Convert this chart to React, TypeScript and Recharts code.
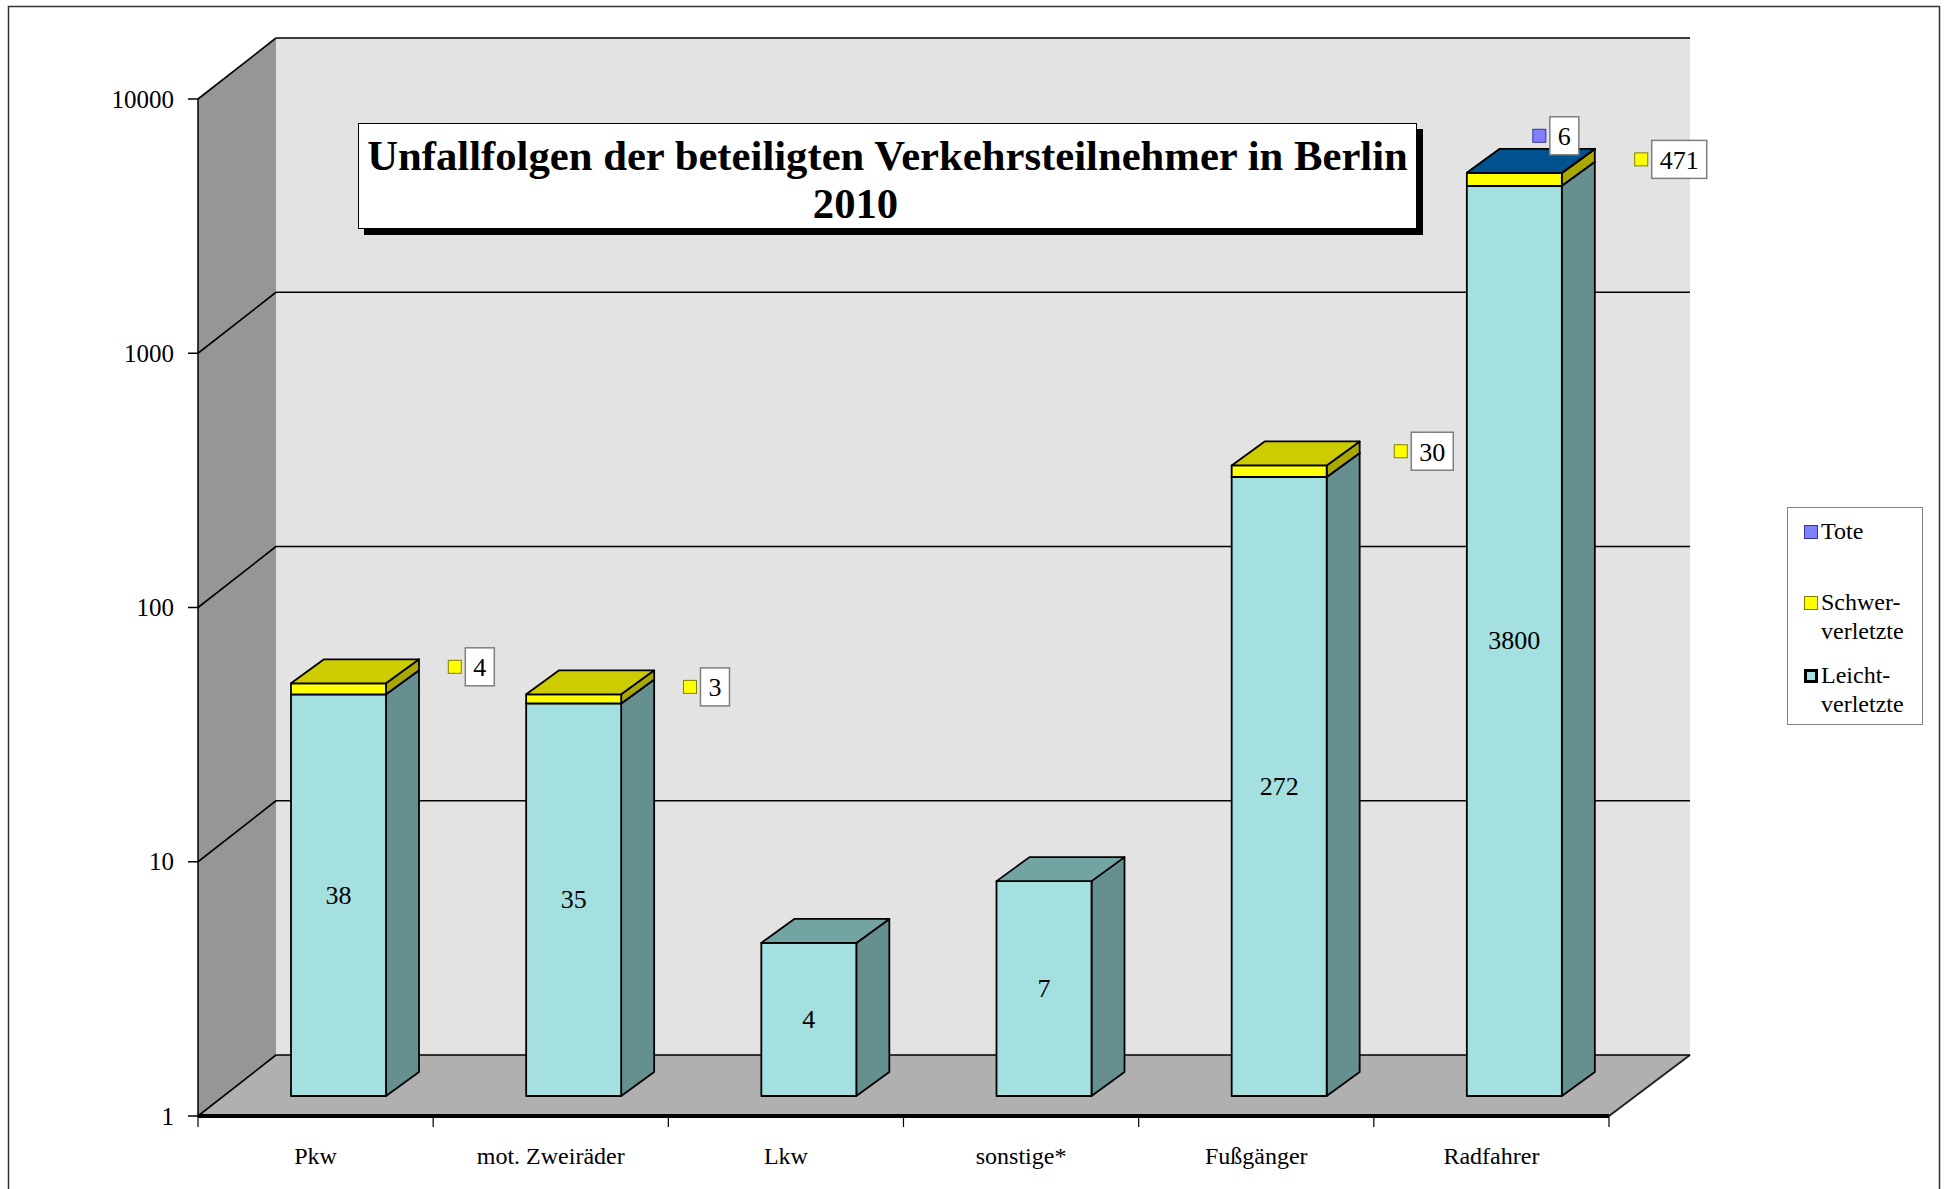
import React from "react";
import { Bar, BarChart, CartesianGrid, LabelList, XAxis, YAxis } from "recharts";

const categories = ["Pkw", "mot. Zweiräder", "Lkw", "sonstige*", "Fußgänger", "Radfahrer"];
const leichtverletzte = [38, 35, 4, 7, 272, 3800];
const schwerverletzte = [4, 3, 0, 0, 30, 471];
const tote = [0, 0, 0, 0, 0, 6];
const yTicks = [1, 10, 100, 1000, 10000];

const titleLines = ["Unfallfolgen der beteiligten Verkehrsteilnehmer in Berlin", "2010"];

// legend order is top-down, the reverse of the stacking
const legendItems = [
  { lines: ["Tote"], fill: "#8080FF", border: "1px solid #333399" },
  { lines: ["Schwer-", "verletzte"], fill: "#FFFF00", border: "1px solid #808000" },
  { lines: ["Leicht-", "verletzte"], fill: "#A4E0E0", border: "3px solid #000" },
];

// each segment is a [from, to] range so the log axis never sees a zero base
const data = categories.map((cat, i) => {
  const l = leichtverletzte[i];
  const s = schwerverletzte[i];
  const t = tote[i];
  return {
    cat,
    leicht: l,
    schwer: s,
    tote: t,
    leichtRange: [1, l],
    schwerRange: [l, l + s],
    toteRange: [l + s, l + s + t],
  };
});

const SERIF = "'Liberation Serif', 'Times New Roman', serif";
const W = 1944;
const H = 1189;
const PLOT = { left: 198, right: 1609, top: 99, bottom: 1116 };
// oblique depth of the walls, of the bars' front plane and of a bar itself
const WALL_DX = 78;
const WALL_DX_RIGHT = 81;
const WALL_DY = -61;
const BAR_DX = 23;
const BAR_DY = -20;
const DEPTH_DX = 33;
const DEPTH_DY = -24;
const BAR_SIZE = 95;
// the boxed Schwerverletzte labels sit a little above their segment, not all by the same amount
const SCHWER_LABEL_DY = [-22, -12, -20, -20, -20, -20];

const FACES = {
  leicht: { front: "#A4E0E0", side: "#669090", top: "#72A4A4" },
  schwer: { front: "#FFFF00", side: "#A8A800", top: "#CCCC00" },
  tote: { front: "#8080FF", side: "#5050B0", top: "#00538F" },
};

function boxShape(faces: { front: string; side: string; top: string }, valueKey: string) {
  return (props: any) => {
    const { x, y, width, height, payload } = props;
    if (!payload || !payload[valueKey] || y == null || isNaN(y)) return <g />;
    const fx = x + BAR_DX;
    const fy = y + BAR_DY;
    const h = Math.max(height, 0);
    const front = `M${fx},${fy}h${width}v${h}h${-width}Z`;
    const side = `M${fx + width},${fy}l${DEPTH_DX},${DEPTH_DY}v${h}l${-DEPTH_DX},${-DEPTH_DY}Z`;
    const top = `M${fx},${fy}l${DEPTH_DX},${DEPTH_DY}h${width}l${-DEPTH_DX},${-DEPTH_DY}Z`;
    return (
      <g stroke="#000" strokeWidth={1.8} strokeLinejoin="round">
        <path d={side} fill={faces.side} />
        <path d={front} fill={faces.front} />
        <path d={top} fill={faces.top} />
      </g>
    );
  };
}

function labelBox(p: any) {
  return p.viewBox && p.viewBox.width != null ? p.viewBox : p;
}

function BoxedLabel({ mx, cy, text, fill, stroke }: any) {
  const w = text.length * 13 + 16;
  const bx = mx + 17;
  return (
    <g>
      <rect x={mx} y={cy - 6.5} width={13} height={13} fill={fill} stroke={stroke} strokeWidth={1} />
      <rect x={bx} y={cy - 19} width={w} height={38} fill="#fff" stroke="#7F7F7F" strokeWidth={1.5} />
      <text x={bx + w / 2} y={cy + 1} textAnchor="middle" dominantBaseline="central" fontFamily={SERIF} fontSize={26} fill="#000">
        {text}
      </text>
    </g>
  );
}

const leichtLabel = (p: any) => {
  if (!p.value) return null;
  const b = labelBox(p);
  return (
    <text
      x={b.x + BAR_DX + b.width / 2}
      y={b.y + BAR_DY + b.height / 2}
      textAnchor="middle"
      dominantBaseline="central"
      fontFamily={SERIF}
      fontSize={26}
      fill="#000"
    >
      {p.value}
    </text>
  );
};

const schwerLabel = (p: any) => {
  if (!p.value) return null;
  const b = labelBox(p);
  const text = String(p.value);
  const fx = b.x + BAR_DX;
  const dy = SCHWER_LABEL_DY[p.index] ?? -20;
  const cy = b.y + BAR_DY + b.height / 2 + dy;
  return <BoxedLabel mx={fx + 152 + 5.3 * text.length} cy={cy} text={text} fill="#FFFF00" stroke="#808000" />;
};

const toteLabel = (p: any) => {
  if (!p.value) return null;
  const b = labelBox(p);
  return <BoxedLabel mx={b.x + BAR_DX + 66} cy={b.y + BAR_DY - 37} text={String(p.value)} fill="#8080FF" stroke="#333399" />;
};

// gridline on the back wall plus its diagonal across the side wall
const wallLine = (p: any) => {
  const { x1, x2, y1 } = p;
  return (
    <g key={p.key ?? `wl-${y1}`} stroke="#000" strokeWidth={1.6}>
      <line x1={x1} y1={y1} x2={x1 + WALL_DX} y2={y1 + WALL_DY} />
      <line x1={x1 + WALL_DX} y1={y1 + WALL_DY} x2={x2 + WALL_DX_RIGHT} y2={y1 + WALL_DY} />
    </g>
  );
};

const YTick = (p: any) => (
  <g>
    <line x1={PLOT.left - 10} x2={PLOT.left} y1={p.y} y2={p.y} stroke="#000" strokeWidth={1.5} />
    <text x={PLOT.left - 24} y={p.y} textAnchor="end" dominantBaseline="central" fontFamily={SERIF} fontSize={25} fill="#000">
      {p.payload.value}
    </text>
  </g>
);

const CatTick = (p: any) => {
  const half = p.payload.offset || (PLOT.right - PLOT.left) / (categories.length * 2);
  const last = p.index === categories.length - 1;
  return (
    <g>
      <line x1={p.x - half} x2={p.x - half} y1={PLOT.bottom} y2={PLOT.bottom + 11} stroke="#000" strokeWidth={1.2} />
      {last && <line x1={p.x + half} x2={p.x + half} y1={PLOT.bottom} y2={PLOT.bottom + 11} stroke="#000" strokeWidth={1.2} />}
      <text x={p.x} y={PLOT.bottom + 40} textAnchor="middle" dominantBaseline="central" fontFamily={SERIF} fontSize={24} fill="#000">
        {p.payload.value}
      </text>
    </g>
  );
};

function Walls() {
  const { left: L, right: R, top: T, bottom: B } = PLOT;
  return (
    <svg width={W} height={H} style={{ position: "absolute", left: 0, top: 0 }}>
      <rect x={8.5} y={6.5} width={1931} height={1200} fill="#fff" stroke="#333" strokeWidth={1.5} />
      <rect x={L + WALL_DX} y={T + WALL_DY} width={R + WALL_DX_RIGHT - L - WALL_DX} height={B - T} fill="#E3E3E3" />
      <polygon points={`${L},${T} ${L + WALL_DX},${T + WALL_DY} ${L + WALL_DX},${B + WALL_DY} ${L},${B}`} fill="#969696" />
      <polygon
        points={`${L},${B} ${L + WALL_DX},${B + WALL_DY} ${R + WALL_DX_RIGHT},${B + WALL_DY} ${R},${B}`}
        fill="#B0B0B0"
      />
      <line x1={R} y1={B} x2={R + WALL_DX_RIGHT} y2={B + WALL_DY} stroke="#222" strokeWidth={2} />
    </svg>
  );
}

function Title() {
  return (
    <div
      style={{
        position: "absolute",
        left: 358,
        top: 123,
        width: 1059,
        height: 106,
        boxSizing: "border-box",
        background: "#fff",
        border: "1px solid #000",
        boxShadow: "6px 6px 0 #000",
        fontFamily: SERIF,
        fontWeight: "bold",
        fontSize: 42.7,
        lineHeight: "48px",
        textAlign: "center",
        paddingTop: 8,
        whiteSpace: "nowrap",
      }}
    >
      <div>{titleLines[0]}</div>
      <div style={{ position: "relative", left: -32 }}>{titleLines[1]}</div>
    </div>
  );
}

function LegendBox() {
  const rowTops = [9, 80, 153];
  return (
    <div
      style={{
        position: "absolute",
        left: 1787,
        top: 507,
        width: 136,
        height: 218,
        boxSizing: "border-box",
        border: "1px solid #808080",
        background: "#fff",
        fontFamily: SERIF,
        fontSize: 24,
        lineHeight: "29px",
      }}
    >
      {legendItems.map((item, i) => (
        <div key={item.lines[0]} style={{ position: "absolute", left: 0, top: rowTops[i] }}>
          <div
            style={{
              position: "absolute",
              left: 16,
              top: 8,
              width: 14,
              height: 14,
              boxSizing: "border-box",
              background: item.fill,
              border: item.border,
            }}
          />
          <div style={{ position: "absolute", left: 33, top: 0, whiteSpace: "nowrap" }}>
            {item.lines.map((line) => (
              <div key={line}>{line}</div>
            ))}
          </div>
        </div>
      ))}
    </div>
  );
}

export default function App() {
  return (
    <div style={{ position: "absolute", left: 0, top: 0, width: W, height: H, overflow: "hidden", background: "#fff" }}>
      <Walls />
      <div style={{ position: "absolute", left: 0, top: 0 }}>
        <BarChart width={W} height={H} data={data} margin={{ top: PLOT.top, right: W - PLOT.right, bottom: 13, left: 0 }}>
          <CartesianGrid vertical={false} horizontal={wallLine} />
          <XAxis
            dataKey="cat"
            interval={0}
            height={60}
            axisLine={{ stroke: "#000", strokeWidth: 4 }}
            tickLine={false}
            tick={<CatTick />}
          />
          <XAxis xAxisId="s" dataKey="cat" hide />
          <XAxis xAxisId="t" dataKey="cat" hide />
          <YAxis
            type="number"
            scale="log"
            domain={[1, 10000]}
            ticks={yTicks}
            allowDataOverflow
            width={PLOT.left}
            axisLine={{ stroke: "#000", strokeWidth: 1.5 }}
            tickLine={false}
            tick={<YTick />}
          />
          <Bar dataKey="leichtRange" name="Leichtverletzte" barSize={BAR_SIZE} isAnimationActive={false} shape={boxShape(FACES.leicht, "leicht")}>
            <LabelList dataKey="leicht" content={leichtLabel} />
          </Bar>
          <Bar xAxisId="s" dataKey="schwerRange" name="Schwerverletzte" barSize={BAR_SIZE} isAnimationActive={false} shape={boxShape(FACES.schwer, "schwer")}>
            <LabelList dataKey="schwer" content={schwerLabel} />
          </Bar>
          <Bar xAxisId="t" dataKey="toteRange" name="Tote" barSize={BAR_SIZE} isAnimationActive={false} shape={boxShape(FACES.tote, "tote")}>
            <LabelList dataKey="tote" content={toteLabel} />
          </Bar>
        </BarChart>
      </div>
      <Title />
      <LegendBox />
    </div>
  );
}
